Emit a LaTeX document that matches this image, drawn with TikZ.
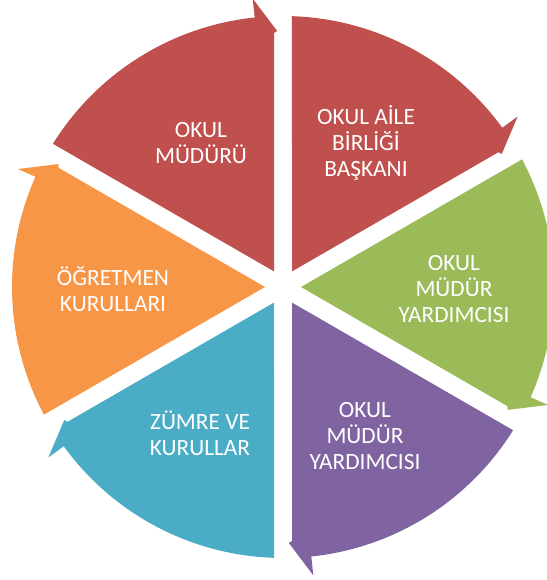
\documentclass[tikz,border=0pt]{standalone}
\usepackage{fontspec}
\setmainfont{Carlito}
\usepackage{tikz}

\definecolor{segred}{HTML}{C0504D}
\definecolor{seggreen}{HTML}{9BBB59}
\definecolor{segpurple}{HTML}{8064A2}
\definecolor{segblue}{HTML}{4BACC6}
\definecolor{segorange}{HTML}{F79646}

\tikzset{
  roletext/.style={text=white, align=center, font=\fontsize{17.5pt}{19.8pt}\selectfont}
}

\begin{document}
\begin{tikzpicture}[x=0.75pt,y=0.75pt]

% Fix the margins of the picture
\useasboundingbox (-283,-293) rectangle (263,287);

% The six arrow segments of the cycle, each turned by 60 degrees
\foreach \rot/\col in {0/segred, -60/segred, -120/seggreen, -180/segpurple, -240/segblue, -300/segorange}{
  \fill[\col, rotate=\rot] (-9,15.6) -- (148.1:271)
    arc[start angle=148.1, end angle=96, radius=271]
    -- (96:290) -- (91.3:256) -- (-9,254) -- cycle;
}

% The labels
\node[roletext] (mudur) at (-82,144) {OKUL\\MÜDÜRÜ};
\node[roletext] (aile) at (83,144) {OKUL AİLE\\BİRLİĞİ\\BAŞKANI};
\node[roletext] (yard1) at (171,-2) {OKUL\\MÜDÜR\\YARDIMCISI};
\node[roletext] (yard2) at (82,-149) {OKUL\\MÜDÜR\\YARDIMCISI};
\node[roletext] (zumre) at (-83,-146) {ZÜMRE VE\\KURULLAR};
\node[roletext] (ogretmen) at (-170,-2) {ÖĞRETMEN\\KURULLARI};

\end{tikzpicture}
\end{document}
